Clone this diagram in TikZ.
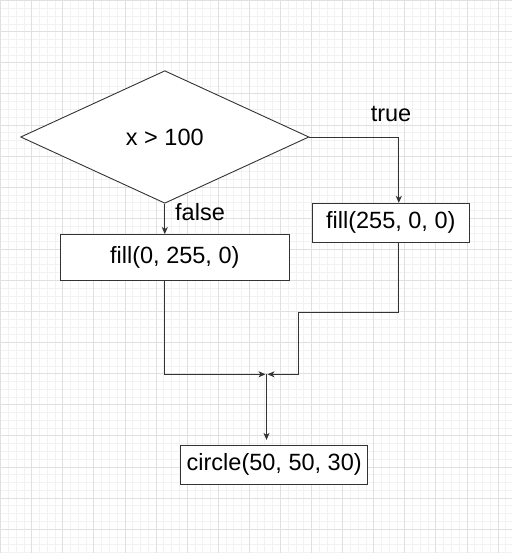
\documentclass[tikz,border=0pt]{standalone}
\usepackage{fontspec}
\setmainfont{Liberation Sans}
\usetikzlibrary{shapes.geometric,arrows.meta}
\definecolor{minorgrid}{HTML}{F2F2F2}
\definecolor{majorgrid}{HTML}{E0E0E0}
\definecolor{edge}{HTML}{333333}
\tikzset{
  minorline/.style={draw=minorgrid,line width=0.8pt},
  majorline/.style={draw=majorgrid,line width=0.8pt},
  procbox/.style={draw=edge,fill=white,line width=0.9pt,rectangle,inner sep=0pt,font=\fontsize{23.5}{28}\selectfont},
  decision/.style={draw=edge,fill=white,line width=0.9pt,diamond,inner sep=0pt,font=\fontsize{23.5}{28}\selectfont},
  lbl/.style={inner sep=0pt,font=\fontsize{23.5}{28}\selectfont},
  arr/.style={draw=edge,line width=0.9pt,-{Stealth[length=7pt,width=6pt,inset=2pt]}}
}
\begin{document}
\begin{tikzpicture}[x=1pt,y=-1pt]
\useasboundingbox (0,0) rectangle (512,553);
\fill[white] (0,0) rectangle (512,553);
% grid
\foreach \i in {0,...,66} { \draw[minorline] ({0.6+\i*7.7725},0) -- ({0.6+\i*7.7725},553); }
\foreach \i in {0,...,71} { \draw[minorline] (0,{0.6+\i*7.7725}) -- (512,{0.6+\i*7.7725}); }
\foreach \i in {0,...,16} { \draw[majorline] ({0.6+\i*31.09},0) -- ({0.6+\i*31.09},553); }
\foreach \i in {0,...,17} { \draw[majorline] (0,{0.6+\i*31.09}) -- (512,{0.6+\i*31.09}); }
% nodes
\node[decision,minimum width=288.3pt,minimum height=132.6pt] (d) at (164.8,137) {x > 100};
\node[procbox,minimum width=228.5pt,minimum height=46pt] (f1) at (174.8,257.5) {fill(0, 255, 0)};
\node[procbox,minimum width=156.3pt,minimum height=39pt] (f2) at (390.8,222.8) {fill(255, 0, 0)};
\node[procbox,minimum width=187pt,minimum height=38.7pt] (c) at (274.2,464.7) {circle(50, 50, 30)};
\node[lbl] (lt) at (391,114) {true};
\node[lbl,anchor=west] (lf) at (175,212) {false};
% helper coordinates
\coordinate (tx) at (398.8,0);
\coordinate (j1) at (298.3,312.3);
\coordinate (ml) at (265.5,374.3);
\coordinate (mr) at (267.5,374.3);
\coordinate (m) at (266.5,374.3);
% connectors
\draw[arr] (d.east) -| (tx |- f2.north);
\draw[arr] (d.south) -- (d.south |- f1.north);
\draw[arr] (d.south |- f1.south) |- (ml);
\draw[arr] (tx |- f2.south) |- (j1) |- (mr);
\draw[arr,shorten >=5pt] (m) -- (m |- c.north);
\end{tikzpicture}
\end{document}
